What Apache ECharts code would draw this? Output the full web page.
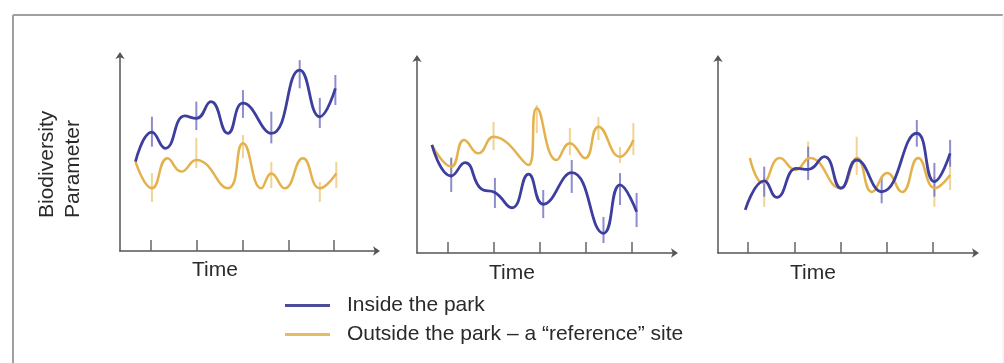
<!DOCTYPE html>
<html>
<head>
<meta charset="utf-8">
<script src="https://cdn.jsdelivr.net/npm/echarts@6/dist/echarts.min.js"></script>
<style>
html,body{margin:0;padding:0;background:#fff;}
#chart{width:1004px;height:363px;}
</style>
</head>
<body>
<div id="chart"></div>
<script>
// ---- data (time in tick units, parameter on a 0–100 scale) ----
const TICKS = [1, 2, 3, 4, 5];
const SERIES_NAMES = ['Inside the park', 'Outside the park – a “reference” site'];
const Y_LABEL = ['Biodiversity', 'Parameter'];
const X_LABEL = 'Time';

const P1_INSIDE  = [[0.66,45.6],[1.02,60.6],[1.31,52.4],[1.74,68.9],[1.99,67.7],[2.31,76.2],[2.68,60.0],[3.01,75.4],[3.63,60.0],[4.25,92.3],[4.69,68.5],[5.03,83.0]];
const P1_OUTSIDE = [[0.66,45.6],[1.02,32.0],[1.36,47.3],[1.66,40.5],[1.99,46.4],[2.68,32.0],[3.01,55.0],[3.41,32.0],[3.63,39.6],[3.92,32.0],[4.32,47.3],[4.69,32.0],[5.05,39.6]];
const P1_INSIDE_ERR  = [[1.02,53.2,68.5],[1.99,61.7,76.2],[3.01,67.9,82.1],[3.63,54.9,71.1],[4.25,83.0,97.4],[4.69,62.8,78.1],[5.03,74.5,89.8]];
const P1_OUTSIDE_ERR = [[1.02,25.0,39.8],[1.99,42.3,57.7],[3.01,47.4,59.2],[3.63,32.1,45.4],[4.69,25.0,35.2],[5.05,32.1,45.4]];

const P2_INSIDE  = [[0.65,55.4],[1.07,39.5],[1.37,46.3],[1.73,32.7],[2.02,31.0],[2.39,23.2],[2.75,40.4],[3.07,25.0],[3.69,41.2],[4.38,10.1],[4.74,34.9],[5.10,21.2]];
const P2_OUTSIDE = [[0.65,55.4],[1.07,44.3],[1.35,58.0],[1.66,51.1],[1.99,59.6],[2.75,45.1],[2.93,74.2],[3.36,47.7],[3.65,56.3],[3.98,48.6],[4.27,64.8],[4.74,49.4],[5.03,58.0]];
const P2_INSIDE_ERR  = [[1.07,31.3,48.7],[2.02,23.1,38.5],[3.07,17.9,32.3],[3.69,30.8,47.7],[4.38,5.1,18.5],[4.74,24.6,41.0],[5.10,13.3,30.8]];
const P2_OUTSIDE_ERR = [[1.07,38.5,49.2],[1.99,52.8,67.2],[2.93,61.5,75.9],[3.65,50.3,64.1],[4.27,57.9,69.7],[4.74,46.2,54.4],[5.03,50.3,66.7]];

const P3_INSIDE  = [[0.94,22.1],[1.35,37.0],[1.62,28.5],[2.05,43.4],[2.30,42.9],[2.65,49.4],[3.01,33.2],[3.35,47.7],[3.89,31.4],[4.65,61.4],[5.03,36.6],[5.37,51.1]];
const P3_OUTSIDE = [[1.04,48.7],[1.32,35.9],[1.69,48.7],[2.02,42.6],[2.34,48.7],[2.99,33.3],[3.36,48.7],[3.68,31.3],[4.01,41.0],[4.33,31.3],[4.68,48.7],[5.04,33.3],[5.37,40.0]];
const P3_INSIDE_ERR  = [[1.35,28.9,44.3],[2.30,37.4,54.5],[3.89,25.5,39.1],[4.65,54.5,68.2],[5.03,28.9,46.2],[5.37,44.3,58.0]];
const P3_OUTSIDE_ERR = [[1.35,23.7,39.1],[2.30,44.3,57.1],[3.35,40.0,59.6],[5.03,23.7,39.1],[5.37,32.3,47.7]];

// ---- styling / layout ----
const BLUE = '#3e3e9e', ORANGE = '#e4b24c';
const BLUE_ERR = '#7070c0', ORANGE_ERR = '#efc77c';
const AXIS = '#555';
const FONT = '"Liberation Sans", Arial, sans-serif';
const TEXT = '#2a2a2a';

const panels = [
  {grid:{left:120, top:55, width:257, height:196}, xmin:0.322, xmax:5.94, inside:P1_INSIDE, outside:P1_OUTSIDE, ie:P1_INSIDE_ERR, oe:P1_OUTSIDE_ERR},
  {grid:{left:417, top:58, width:258, height:195}, xmin:0.326, xmax:5.935, inside:P2_INSIDE, outside:P2_OUTSIDE, ie:P2_INSIDE_ERR, oe:P2_OUTSIDE_ERR},
  {grid:{left:718, top:58, width:258, height:195}, xmin:0.351, xmax:5.93, inside:P3_INSIDE, outside:P3_OUTSIDE, ie:P3_INSIDE_ERR, oe:P3_OUTSIDE_ERR}
];
const timePos = [[215,270],[512,273],[813,273]];

const grids = [], xAxes = [], yAxes = [], series = [];
function errSeries(i, data, color) {
  return {
    type:'custom', xAxisIndex:i, yAxisIndex:i, silent:true, z:3,
    encode:{x:0, y:[1,2]},
    data:data,
    renderItem:function(params, api){
      const x = api.value(0);
      const a = api.coord([x, api.value(1)]);
      const b = api.coord([x, api.value(2)]);
      return {type:'line', shape:{x1:a[0], y1:a[1], x2:b[0], y2:b[1]},
              style:{stroke:color, lineWidth:2, opacity:0.8}};
    }
  };
}
panels.forEach(function(p, i){
  grids.push(p.grid);
  xAxes.push({
    gridIndex:i, type:'value', min:p.xmin, max:p.xmax,
    axisLine:{show:true, onZero:false, symbol:['none','arrow'], symbolSize:[7,7], symbolOffset:[0,3], lineStyle:{color:AXIS, width:1.5}},
    axisTick:{show:true, inside:true, length:11, customValues:TICKS, lineStyle:{color:'#666', width:1.5}},
    axisLabel:{show:false}, splitLine:{show:false}
  });
  yAxes.push({
    gridIndex:i, type:'value', min:0, max:100,
    axisLine:{show:true, onZero:false, symbol:['none','arrow'], symbolSize:[7,7], symbolOffset:[0,3], lineStyle:{color:AXIS, width:1.5}},
    axisTick:{show:false}, axisLabel:{show:false}, splitLine:{show:false}
  });
  series.push(errSeries(i, p.oe, ORANGE_ERR));
  series.push({type:'line', name:SERIES_NAMES[1], xAxisIndex:i, yAxisIndex:i, data:p.outside, smooth:0.5,
    symbol:'none', color:'#e6bc62', lineStyle:{color:ORANGE, width:2.5}, z:4});
  series.push(errSeries(i, p.ie, BLUE_ERR));
  series.push({type:'line', name:SERIES_NAMES[0], xAxisIndex:i, yAxisIndex:i, data:p.inside, smooth:0.5,
    symbol:'none', color:'#4c4c98', lineStyle:{color:BLUE, width:2.8}, z:5});
});

const graphics = [
  {type:'line', shape:{x1:13, y1:15, x2:13, y2:370}, style:{stroke:'#a0a0a0', lineWidth:2}, silent:true},
  {type:'line', shape:{x1:13, y1:15, x2:1003, y2:15}, style:{stroke:'#a0a0a0', lineWidth:2}, silent:true},
  {type:'line', shape:{x1:1003, y1:15, x2:1003, y2:370}, style:{stroke:'#ececec', lineWidth:1}, silent:true},
  {type:'text', x:47, y:218, rotation:Math.PI/2, style:{text:Y_LABEL[0], font:'21px ' + FONT, fill:TEXT, textAlign:'left', textVerticalAlign:'middle'}},
  {type:'text', x:73, y:218, rotation:Math.PI/2, style:{text:Y_LABEL[1], font:'21px ' + FONT, fill:TEXT, textAlign:'left', textVerticalAlign:'middle'}}
];
timePos.forEach(function(t){
  graphics.push({type:'text', x:t[0], y:t[1], style:{text:X_LABEL, font:'21px ' + FONT, fill:TEXT, textAlign:'center', textVerticalAlign:'middle'}});
});

const chart = echarts.init(document.getElementById('chart'), null, {renderer:'canvas'});
chart.setOption({
  animation:false,
  backgroundColor:'#fff',
  grid:grids, xAxis:xAxes, yAxis:yAxes, series:series,
  legend:{
    orient:'vertical', left:285, top:295, padding:0,
    itemWidth:45, itemHeight:3, itemGap:8, icon:'rect', selectedMode:false,
    data:SERIES_NAMES,
    textStyle:{fontSize:21, fontFamily:FONT, color:TEXT, padding:[0,0,0,12]}
  },
  graphic:graphics
});
</script>
</body>
</html>
